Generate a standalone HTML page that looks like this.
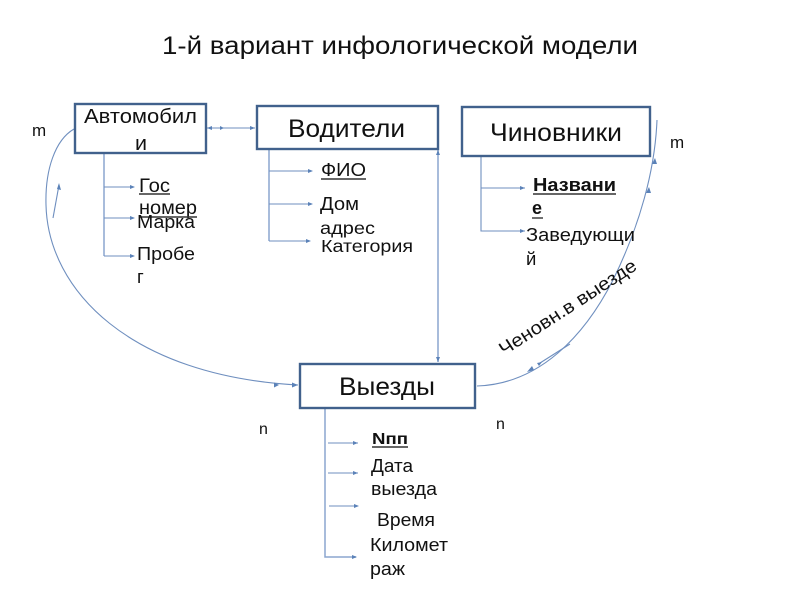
<!DOCTYPE html>
<html><head><meta charset="utf-8"><style>
html,body{margin:0;padding:0;background:#fff}
svg{display:block;filter:blur(0.35px)}
text{font-family:"Liberation Sans",sans-serif;fill:#111}
.l{fill:none;stroke:#6f8fbf;stroke-width:1.1}
.s{fill:none;stroke:#8ba6cf;stroke-width:1.5}
.b{fill:#fff;stroke:#41618c;stroke-width:2.4}
.a{fill:#5b82b8;stroke:none}
.u{stroke:#333;stroke-width:1.4}
</style></head><body>
<svg width="800" height="600" viewBox="0 0 800 600" xmlns="http://www.w3.org/2000/svg">
<text x="162" y="54" font-size="25" textLength="476" lengthAdjust="spacingAndGlyphs">1-й вариант инфологической модели</text>

<!-- connectors -->
<path class="l" d="M74 129C55 140 45 170 46 205C48 290 130 376 298 385"/>
<path class="l" d="M53 218L59 185"/>
<path class="a" d="M59 183L61 190L57 189Z"/>
<path class="a" d="M298 385L292 382.500L292 387.500Z"/>
<path class="a" d="M279 385L274 382.500L274 387.500Z"/>
<path class="l" d="M207 128H255"/>
<path class="a" d="M255 128L250 126V130Z"/>
<path class="a" d="M207 128L212 126V130Z"/>
<path class="a" d="M224 128L220 126V130Z"/>
<path class="s" d="M438 150V362"/>
<path class="a" d="M438 150L436 155H440Z"/>
<path class="a" d="M438 362L436 357H440Z"/>
<path class="l" d="M657 120C655 170 640 225 613 280C585 335 540 384 477 386"/>
<path class="l" d="M570 344L540 363"/>
<path class="a" d="M527 372L534 370L532 366Z"/>
<path class="a" d="M542 362L537 363L539 366Z"/>
<path class="a" d="M655 158L652 164L657 164Z"/>
<path class="a" d="M649 187L646 193L651 193Z"/>

<!-- Автомобили fields -->
<path class="s" d="M104 154V256"/>
<path class="l" d="M104 256H134M104 187H134M104 218H134"/>
<path class="a" d="M135 187L130 185V189ZM135 218L130 216V220ZM135 256L130 254V258Z"/>
<!-- Водители fields -->
<path class="s" d="M269 150V241"/>
<path class="l" d="M269 241H310M269 171H312M269 204H312"/>
<path class="a" d="M313 171L308 169V173ZM313 204L308 202V206ZM311 241L306 239V243Z"/>
<!-- Чиновники fields -->
<path class="l" d="M481 157V231H525M481 188H525"/>
<path class="a" d="M525 188L520 186V190ZM525 231L520 229V233Z"/>
<!-- Выезды fields -->
<path class="s" d="M325 409V557H356"/>
<path class="l" d="M328 443H358M328 473H358M329 506H358"/>
<path class="a" d="M358 443L353 441V445ZM358 473L353 471V475ZM359 506L354 504V508ZM357 557L352 555V559Z"/>

<!-- boxes -->
<rect class="b" x="75" y="104" width="131" height="49"/>
<rect class="b" x="257" y="106" width="181" height="43"/>
<rect class="b" x="462" y="107" width="188" height="49"/>
<rect class="b" x="300" y="364" width="175" height="44"/>

<text x="84" y="123" font-size="20" textLength="113" lengthAdjust="spacingAndGlyphs">Автомобил</text>
<text x="141" y="150" font-size="20" text-anchor="middle" textLength="12" lengthAdjust="spacingAndGlyphs">и</text>
<text x="288" y="137" font-size="25" textLength="117" lengthAdjust="spacingAndGlyphs">Водители</text>
<text x="490" y="141" font-size="25" textLength="132" lengthAdjust="spacingAndGlyphs">Чиновники</text>
<text x="339" y="395" font-size="25" textLength="96" lengthAdjust="spacingAndGlyphs">Выезды</text>

<!-- Автомобили labels -->
<text x="139" y="192" font-size="19" textLength="31" lengthAdjust="spacingAndGlyphs">Гос</text>
<line class="u" x1="139" y1="194" x2="170" y2="194"/>
<text x="139" y="214" font-size="19" textLength="58" lengthAdjust="spacingAndGlyphs">номер</text>
<line class="u" x1="139" y1="217" x2="197" y2="217"/>
<text x="137" y="228" font-size="18" textLength="58" lengthAdjust="spacingAndGlyphs">Марка</text>
<text x="137" y="260" font-size="18.500" textLength="58" lengthAdjust="spacingAndGlyphs">Пробе</text>
<text x="137" y="283" font-size="18.500">г</text>

<!-- Водители labels -->
<text x="321" y="176" font-size="18" textLength="45" lengthAdjust="spacingAndGlyphs">ФИО</text>
<line class="u" x1="321" y1="179" x2="366" y2="179"/>
<text x="320" y="210" font-size="18" textLength="39" lengthAdjust="spacingAndGlyphs">Дом</text>
<text x="320" y="234" font-size="17.500" textLength="55" lengthAdjust="spacingAndGlyphs">адрес</text>
<text x="321" y="252" font-size="17.500" textLength="92" lengthAdjust="spacingAndGlyphs">Категория</text>

<!-- Чиновники labels -->
<text x="533" y="191" font-size="18" font-weight="bold" textLength="83" lengthAdjust="spacingAndGlyphs">Названи</text>
<line class="u" x1="533" y1="194" x2="616" y2="194"/>
<text x="532" y="214" font-size="18" font-weight="bold">е</text>
<line class="u" x1="532" y1="218" x2="543" y2="218"/>
<text x="526" y="241" font-size="18.500" textLength="109" lengthAdjust="spacingAndGlyphs">Заведующи</text>
<text x="526" y="265" font-size="18.500">й</text>

<!-- Выезды labels -->
<text x="372" y="444" font-size="16" font-weight="bold" textLength="36" lengthAdjust="spacingAndGlyphs">Nпп</text>
<line class="u" x1="372" y1="447" x2="408" y2="447"/>
<text x="371" y="472" font-size="18.500" textLength="42" lengthAdjust="spacingAndGlyphs">Дата</text>
<text x="371" y="495" font-size="18" textLength="66" lengthAdjust="spacingAndGlyphs">выезда</text>
<text x="377" y="526" font-size="18" textLength="58" lengthAdjust="spacingAndGlyphs">Время</text>
<text x="370" y="551" font-size="18" textLength="78" lengthAdjust="spacingAndGlyphs">Километ</text>
<text x="370" y="575" font-size="18" textLength="35" lengthAdjust="spacingAndGlyphs">раж</text>

<!-- cardinalities -->
<text x="32" y="136" font-size="17">m</text>
<text x="670" y="148" font-size="17">m</text>
<text x="259" y="434" font-size="16">n</text>
<text x="496" y="429" font-size="16">n</text>

<text x="0" y="0" font-size="18.500" transform="translate(504,356) rotate(-33)" textLength="160" lengthAdjust="spacingAndGlyphs">Ченовн.в выезде</text>
</svg>
</body></html>
